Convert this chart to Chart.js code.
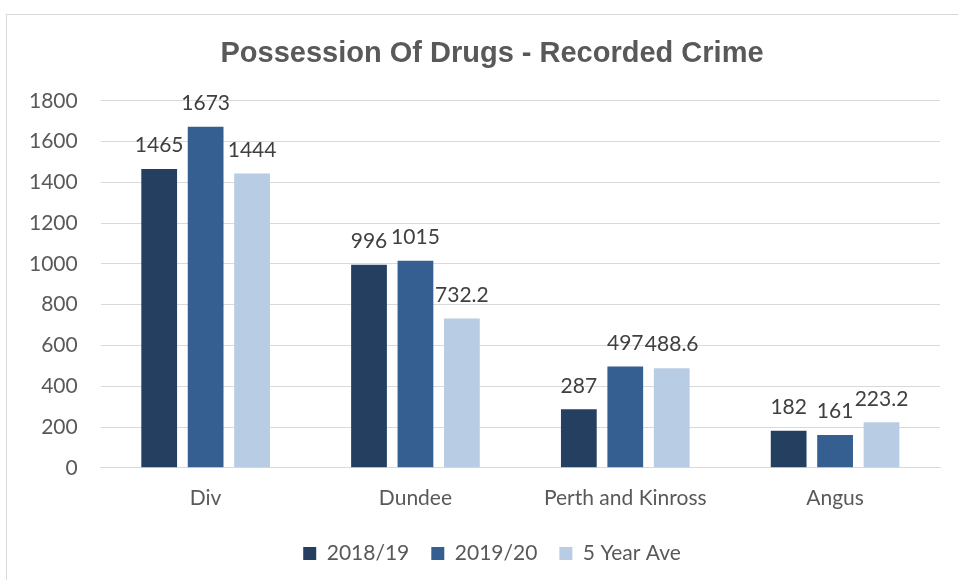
<!DOCTYPE html>
<html>
<head>
<meta charset="utf-8">
<script src="https://cdn.jsdelivr.net/npm/chart.js@4"></script>
<style>
  html, body { margin: 0; padding: 0; background: #fff; }
  #frame {
    position: absolute; left: 6px; top: 14px; width: 980px; height: 600px;
    border: 1px solid #d9d9d9; box-sizing: border-box;
  }
  #wrap { position: absolute; left: 0; top: 0; width: 958px; height: 580px; }
</style>
</head>
<body>
<div id="frame"></div>
<div id="wrap"><canvas id="chart"></canvas></div>
<script>
const categories = ['Div', 'Dundee', 'Perth and Kinross', 'Angus'];
const series2018 = [1465, 996, 287, 182];
const series2019 = [1673, 1015, 497, 161];
const series5yr = [1444, 732.2, 488.6, 223.2];
const seriesNames = ['2018/19', '2019/20', '5 Year Ave'];

const bodyFont = 'Lato, "Open Sans", sans-serif';

// draws value labels above each bar
const barLabels = {
  id: 'barLabels',
  afterDatasetsDraw(chart) {
    const ctx = chart.ctx;
    ctx.save();
    ctx.font = '21px ' + bodyFont;
    ctx.fillStyle = '#404040';
    ctx.textAlign = 'center';
    ctx.textBaseline = 'bottom';
    chart.data.datasets.forEach((ds, i) => {
      chart.getDatasetMeta(i).data.forEach((bar, j) => {
        ctx.fillText(String(ds.data[j]), bar.x, bar.y - 13);
      });
    });
    ctx.restore();
  }
};

// nudge title and legend right so they sit over the middle of the frame
const centreShift = {
  id: 'centreShift',
  afterLayout(chart) {
    [chart.titleBlock, chart.legend].forEach(box => {
      if (!box) return;
      box.left += 19;
      box.right += 19;
    });
  }
};

const ctx = document.getElementById('chart').getContext('2d');
new Chart(ctx, {
  type: 'bar',
  data: {
    labels: categories,
    datasets: [
      { label: seriesNames[0], data: series2018, backgroundColor: '#243F60' },
      { label: seriesNames[1], data: series2019, backgroundColor: '#365F91' },
      { label: seriesNames[2], data: series5yr, backgroundColor: '#B8CCE4' }
    ]
  },
  options: {
    responsive: true,
    maintainAspectRatio: false,
    animation: false,
    categoryPercentage: 0.664,
    barPercentage: 0.77,
    layout: { padding: { left: 6, right: 18, top: 37, bottom: 6 } },
    plugins: {
      title: {
        display: true,
        text: 'Possession Of Drugs - Recorded Crime',
        color: '#595959',
        font: { family: '"Liberation Sans", Arial, sans-serif', size: 29, weight: 'bold' },
        padding: { top: 0, bottom: 29 }
      },
      legend: {
        position: 'bottom',
        labels: {
          color: '#595959',
          font: { family: bodyFont, size: 21 },
          boxWidth: 13, boxHeight: 13, padding: 22
        }
      },
      tooltip: { enabled: false }
    },
    scales: {
      x: {
        grid: { display: false },
        border: { color: '#d9d9d9' },
        ticks: { color: '#595959', font: { family: bodyFont, size: 21 }, padding: 10 }
      },
      y: {
        min: 0, max: 1800,
        ticks: {
          stepSize: 200, color: '#595959', padding: 23,
          font: { family: bodyFont, size: 21 },
          callback: v => String(v)
        },
        grid: { color: '#d9d9d9', drawTicks: false },
        border: { display: false }
      }
    }
  },
  plugins: [barLabels, centreShift]
});
</script>
</body>
</html>
